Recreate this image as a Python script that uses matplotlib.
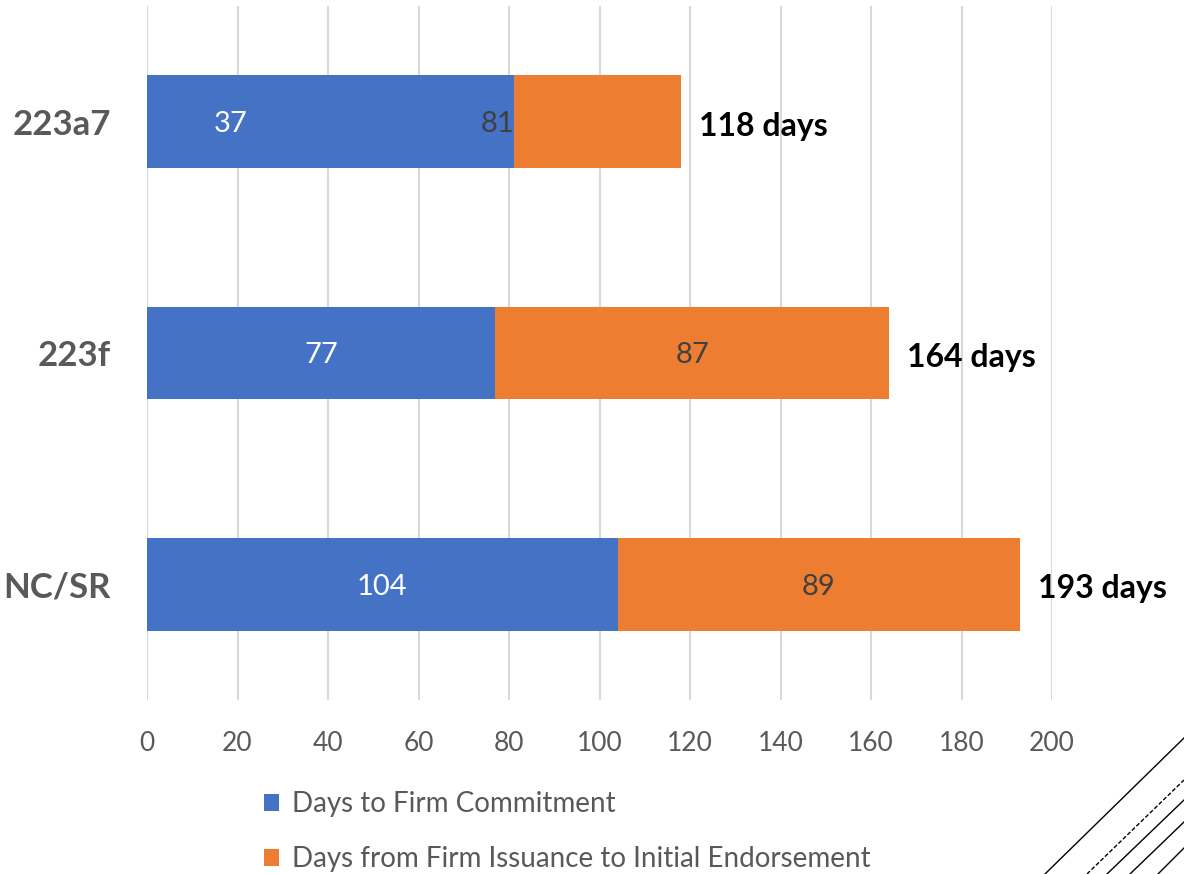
import matplotlib.pyplot as plt
from matplotlib.lines import Line2D

# Dados do gráfico
categorias = ['223a7', '223f', 'NC/SR']
dias_compromisso = [81, 77, 104]
dias_endosso = [37, 87, 89]
# Rótulos como aparecem na figura original (primeira linha com ordem trocada)
rotulo_primeiro = [37, 77, 104]
rotulo_segundo = [81, 87, 89]
serie_nomes = ['Days to Firm Commitment', 'Days from Firm Issuance to Initial Endorsement']

AZUL = '#4472C4'
LARANJA = '#ED7D31'
CINZA = '#595959'

plt.rcParams['font.family'] = ['Lato', 'DejaVu Sans']

W, H = 1184, 874
fig = plt.figure(figsize=(W / 100, H / 100), dpi=100)
ax = fig.add_axes([147 / W, 1 - 700 / H, 905 / W, 694 / H])

pos = range(len(categorias))
b1 = ax.barh(pos, dias_compromisso, height=0.4, color=AZUL, zorder=3)
b2 = ax.barh(pos, dias_endosso, left=dias_compromisso, height=0.4, color=LARANJA, zorder=3)

for i in pos:
    ax.text(rotulo_primeiro[i] / 2, i + 0.01, str(rotulo_primeiro[i]), color='white',
            fontsize=21, ha='center', va='center', zorder=4)
    ax.text(rotulo_primeiro[i] + rotulo_segundo[i] / 2, i + 0.01, str(rotulo_segundo[i]),
            color='#404040', fontsize=21, ha='center', va='center', zorder=4)
    total = dias_compromisso[i] + dias_endosso[i]
    ax.text(total + 4, i + 0.02, f'{total} days', color='black', fontsize=23,
            fontweight='bold', ha='left', va='center', zorder=4)

ax.set_xlim(0, 200)
ax.set_ylim(2.5, -0.5)
ax.set_xticks(range(0, 201, 20))
ax.set_yticks(list(pos))
ax.set_yticklabels(categorias, fontsize=25, fontweight='bold', color=CINZA)
ax.tick_params(axis='x', length=0, pad=22, labelsize=19, labelcolor=CINZA)
ax.tick_params(axis='y', length=0, pad=26)
ax.grid(axis='x', color='#D9D9D9', linewidth=1.5, zorder=0)
for s in ax.spines.values():
    s.set_visible(False)

fig.legend([b1, b2], serie_nomes, loc='upper left', bbox_to_anchor=(239 / W, 1 - 766 / H),
           frameon=False, fontsize=20, labelcolor=CINZA, handlelength=0.55,
           handleheight=0.55, handletextpad=0.45, labelspacing=1.05)

# Linhas decorativas no canto inferior direito
linhas = [((1045, 874), (1184, 738), '-'),
          ((1087, 874), (1184, 780), '--'),
          ((1107, 874), (1184, 800), '-'),
          ((1130, 874), (1184, 822), '-'),
          ((1158, 874), (1184, 848), '-')]
for (x0, y0), (x1, y1), estilo in linhas:
    fig.add_artist(Line2D([x0 / W, x1 / W], [1 - y0 / H, 1 - y1 / H], color='black',
                          linewidth=1, linestyle=estilo, dashes=(3, 1.5) if estilo == '--' else (None, None)))

fig.savefig('out.png', dpi=100)
